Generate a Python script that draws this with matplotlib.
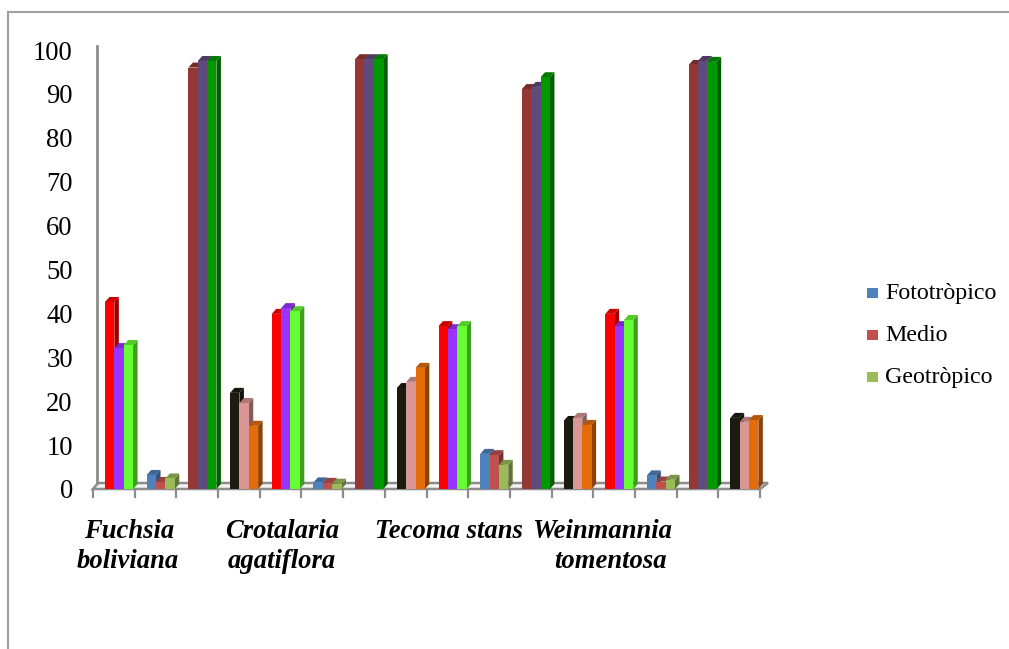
import matplotlib
matplotlib.use("Agg")
import matplotlib.pyplot as plt
from matplotlib.patches import Polygon, Rectangle
from matplotlib.lines import Line2D
import matplotlib.colors as mcolors

# ---- data -------------------------------------------------------------
species = ["Fuchsia boliviana", "Crotalaria agatiflora",
           "Tecoma stans", "Weinmannia tomentosa"]
series_names = ["Fototròpico", "Medio", "Geotròpico"]
series_colors = ["#4F81BD", "#C0504D", "#9BBB59"]

fototropico = [42.6, 3.2, 96.0, 21.9, 39.9, 1.5, 97.9, 23.0,
               37.1, 8.0, 91.1, 15.5, 39.9, 3.1, 96.6, 16.2]
medio = [32.1, 1.6, 97.5, 19.6, 41.2, 1.4, 97.9, 24.4,
         36.4, 7.7, 91.6, 16.2, 37.1, 1.7, 97.5, 15.3]
geotropico = [32.8, 2.4, 97.5, 14.4, 40.5, 1.2, 97.9, 27.6,
              37.1, 5.5, 93.8, 14.6, 38.5, 2.1, 97.3, 15.7]

# colour scheme repeats every four categories
palette = [
    ["#FF0000", "#9933FF", "#66FF33"],
    ["#4F81BD", "#C0504D", "#9BBB59"],
    ["#953735", "#604A7B", "#009900"],
    ["#1D1B10", "#D99694", "#E46C0A"],
]

yticks = list(range(0, 101, 10))

# ---- figure -----------------------------------------------------------
W, H = 1009, 649
fig = plt.figure(figsize=(W / 100, H / 100), dpi=100)
fig.patch.set_facecolor("white")

x0_px, x1_px = 93, 760
y0_px, y100_px = 489, 50
ncat = len(fototropico)
ax = fig.add_axes([x0_px / W, (H - y0_px) / H,
                   (x1_px - x0_px) / W, (y0_px - y100_px) / H])
ax.set_xlim(0, ncat)
ax.set_ylim(0, 100)
ax.set_facecolor("none")
for s in ax.spines.values():
    s.set_visible(False)

px_x = (x1_px - x0_px) / ncat          # pixels per category
px_y = (y0_px - y100_px) / 100.0       # pixels per unit
dx = 4.5 / px_x                         # depth offset (x)
dy = 5.0 / px_y                         # depth offset (y)

font = "Liberation Serif"
fs_axis = 19.2
fs_legend = 17.3

# y ticks
ax.set_yticks(yticks)
ax.set_yticklabels([str(v) for v in yticks], fontfamily=font,
                   fontsize=fs_axis)
ax.tick_params(axis="y", length=0, pad=14.5)
ax.set_xticks([])

grey = "#8C8C8C"
# floor
floor = Polygon([(0, 0), (ncat, 0), (ncat + 8 / px_x, 6 / px_y),
                 (5 / px_x, 6 / px_y)], closed=True,
                facecolor="#F4F4F4", edgecolor=grey, lw=1.8,
                clip_on=False, zorder=1)
ax.add_patch(floor)
# back wall axis line
ax.add_line(Line2D([4 / px_x, 4 / px_x], [6 / px_y, 101],
                   color=grey, lw=2.0, clip_on=False, zorder=1))
# category tick marks
for k in range(ncat + 1):
    ax.add_line(Line2D([k, k], [0, -8 / px_y], color=grey, lw=1.6,
                       clip_on=False, zorder=1))


def shade(c, f):
    r, g, b = mcolors.to_rgb(c)
    return (r * f, g * f, b * f)


bar_off = 12 / px_x
bar_w = 9.35 / px_x
values = [fototropico, medio, geotropico]
for k in range(ncat):
    cols = palette[k % 4]
    for j in range(3):
        v = values[j][k]
        xl = k + bar_off + j * bar_w
        xr = xl + bar_w
        c = cols[j]
        side = Polygon([(xr, 0), (xr + dx, dy), (xr + dx, v + dy), (xr, v)],
                       closed=True, facecolor=shade(c, 0.62),
                       edgecolor="none", zorder=3, clip_on=False)
        top = Polygon([(xl, v), (xr, v), (xr + dx, v + dy), (xl + dx, v + dy)],
                      closed=True, facecolor=shade(c, 0.8),
                      edgecolor="none", zorder=3, clip_on=False)
        front = Rectangle((xl, 0), bar_w, v, facecolor=c,
                          edgecolor="none", zorder=3, clip_on=False)
        ax.add_patch(side)
        ax.add_patch(top)
        ax.add_patch(front)

# species labels (every fourth category)
label_lines = [["Fuchsia", "boliviana"],
               ["Crotalaria", "agatiflora"],
               ["Tecoma stans"],
               ["Weinmannia", "tomentosa"]]
label_shift = [[10, 9], [-4, -4], [-4], [-17, -9]]
for i, lines in enumerate(label_lines):
    kc = 4 * i + bar_off + 1.5 * bar_w
    for li, txt in enumerate(lines):
        xp = x0_px + kc * px_x + label_shift[i][li]
        yp = 531 + 30 * li
        fig.text(xp / W, 1 - yp / H, txt, ha="center", va="center",
                 fontfamily=font, fontsize=fs_axis, fontweight="bold",
                 fontstyle="italic")

# legend
for i, (name, col) in enumerate(zip(series_names, series_colors)):
    yc = 293 + 42 * i
    fig.patches.append(Rectangle((867 / W, 1 - (yc + 5) / H), 11 / W, 10 / H,
                                 transform=fig.transFigure, facecolor=col,
                                 edgecolor="none"))
    fig.text(885 / W, 1 - yc / H, name, ha="left", va="center",
             fontfamily=font, fontsize=fs_legend)

# outer chart frame
fig.add_artist(Line2D([8 / W, 8 / W], [0, 1 - 12 / H], color="#A0A0A0",
                      lw=1.5, transform=fig.transFigure))
fig.add_artist(Line2D([8 / W, 1], [1 - 12 / H, 1 - 12 / H], color="#A0A0A0",
                      lw=1.5, transform=fig.transFigure))

fig.savefig("out.png", dpi=100)
